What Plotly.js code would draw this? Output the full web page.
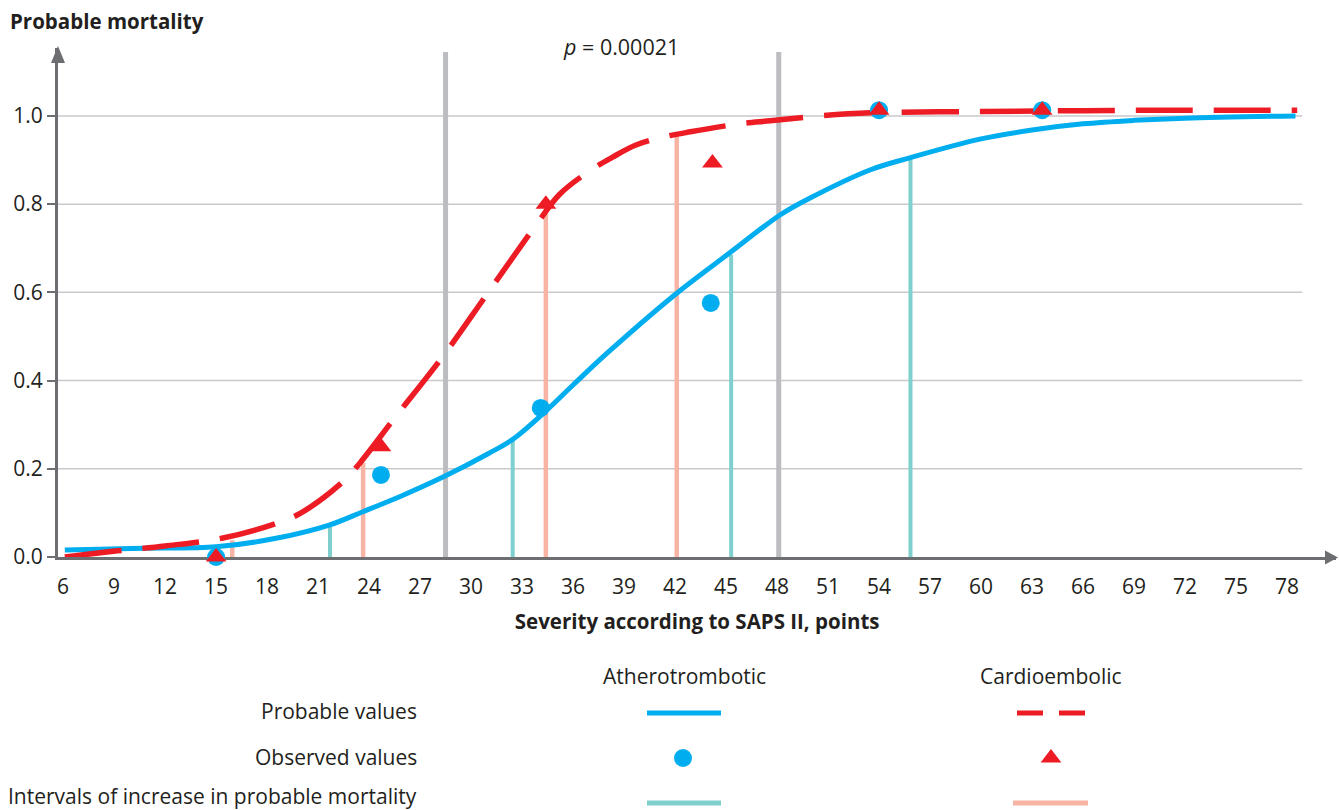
<!DOCTYPE html>
<html><head><meta charset="utf-8">
<script src="https://cdn.plot.ly/plotly-3.0.1.min.js"></script>
<style>html,body{margin:0;padding:0;background:#fff}#chart{width:1339px;height:810px}</style>
</head><body><div id="chart"></div>
<script>
// ---------- data ----------
const athProbX = [6.1, 10.7, 15, 18.6, 21.7, 23.6, 26, 28.5, 31, 32.5, 34.2, 36, 38, 42.1, 45.2, 48.2, 50, 53.5, 55.8, 60, 63, 66, 69, 72, 78.5];
const athProbY = [0.016, 0.02, 0.023, 0.043, 0.073, 0.102, 0.14, 0.184, 0.234, 0.268, 0.324, 0.39, 0.462, 0.598, 0.689, 0.776, 0.815, 0.878, 0.905, 0.948, 0.968, 0.982, 0.99, 0.995, 1.0];
const cardProbX = [6.1, 9.2, 12, 15.4, 18.6, 20, 22.5, 23.5, 25.5, 28.4, 31.1, 33.9, 35.2, 37, 38.3, 39.7, 41.3, 42.9, 45.8, 47.6, 50.5, 53.5, 60, 66, 72, 78.6];
const cardProbY = [0.0, 0.014, 0.025, 0.043, 0.077, 0.1, 0.172, 0.215, 0.315, 0.458, 0.605, 0.757, 0.822, 0.876, 0.906, 0.934, 0.952, 0.964, 0.982, 0.989, 1.0, 1.007, 1.01, 1.012, 1.013, 1.013];
const athObsX = [15, 24.7, 34.1, 44.1, 54, 63.6];
const athObsY = [0.0, 0.186, 0.338, 0.576, 1.013, 1.013];
const cardObsX = [15, 24.7, 34.4, 44.2, 54, 63.6];
const cardObsY = [0.0, 0.25, 0.80, 0.893, 1.013, 1.013];
const athIntX = [21.7, 32.45, 45.3, 55.85];
const athIntTop = [0.073, 0.266, 0.685, 0.905];
const cardIntX = [15.95, 23.65, 34.4, 42.1];
const cardIntTop = [0.038, 0.213, 0.80, 0.961];
const boundaryX = [28.5, 48.1];
const boundaryTop = [1.145, 1.145];
const xTickVals = [6, 9, 12, 15, 18, 21, 24, 27, 30, 33, 36, 39, 42, 45, 48, 51, 54, 57, 60, 63, 66, 69, 72, 75, 78];
const yTickVals = [0, 0.2, 0.4, 0.6, 0.8, 1.0];
const yTickText = ['0.0', '0.2', '0.4', '0.6', '0.8', '1.0'];
const seriesNames = ['Atherotrombotic', 'Cardioembolic'];
const rowNames = ['Probable values', 'Observed values', 'Intervals of increase in probable mortality'];
const pValue = '0.00021';

// ---------- styles ----------
const W = 1339, H = 810;
const FONT = '"Open Sans", "Noto Sans", sans-serif';
const TEXT = '#231f20';
const AXIS = '#6d6e71';
const BLUE = '#00aeef', RED = '#ed1c24', TEAL = '#7fcfcf', PINK = '#f7b4a4', GREY = '#bcbdc0', GRID = '#c9c9cb';
const X_RANGE = [5.7, 80.9], Y_RANGE = [0, 1.154], GRID_END = 78.9;

function segs(xs, tops) {
  const x = [], y = [];
  xs.forEach((v, i) => { x.push(v, v, null); y.push(0, tops[i], null); });
  return {x, y};
}
const px = v => v / W, py = v => 1 - v / H;

const traces = [];
const g = segs(boundaryX, boundaryTop);
traces.push({x: g.x, y: g.y, mode: 'lines', line: {color: GREY, width: 5}, hoverinfo: 'skip'});
const t = segs(athIntX, athIntTop);
traces.push({x: t.x, y: t.y, mode: 'lines', line: {color: TEAL, width: 4}, hoverinfo: 'skip'});
const p = segs(cardIntX, cardIntTop);
traces.push({x: p.x, y: p.y, mode: 'lines', line: {color: PINK, width: 4.5}, hoverinfo: 'skip'});
traces.push({x: athProbX, y: athProbY, mode: 'lines', line: {color: BLUE, width: 5, shape: 'spline', smoothing: 1}});
traces.push({x: cardProbX, y: cardProbY, mode: 'lines', line: {color: RED, width: 5.5, shape: 'spline', smoothing: 1, dash: '57px,21px'}});
traces.push({x: athObsX, y: athObsY, mode: 'markers', marker: {color: BLUE, size: 18, symbol: 'circle'}, cliponaxis: false});
traces.push({x: cardObsX, y: cardObsY, mode: 'markers', marker: {color: RED, size: 18, symbol: 'triangle-up'}, cliponaxis: false});

// legend block (pixel-space subplot)
const L = {colX: [684, 1051], headY: 676, rowY: [713, 758, 803], labelX: 419, labelY: [711, 757, 796], half: 37};
const lg = {xaxis: 'x2', yaxis: 'y2', hoverinfo: 'skip', cliponaxis: false};
traces.push(Object.assign({x: [L.colX[0] - L.half, L.colX[0] + L.half], y: [L.rowY[0], L.rowY[0]], mode: 'lines', line: {color: BLUE, width: 5}}, lg));
traces.push(Object.assign({x: [L.colX[1] - 34, L.colX[1] + 35], y: [L.rowY[0], L.rowY[0]], mode: 'lines', line: {color: RED, width: 5, dash: '26px,16px'}}, lg));
traces.push(Object.assign({x: [L.colX[0] - 1], y: [L.rowY[1]], mode: 'markers', marker: {color: BLUE, size: 18, symbol: 'circle'}}, lg));
traces.push(Object.assign({x: [L.colX[1]], y: [L.rowY[1]], mode: 'markers', marker: {color: RED, size: 18, symbol: 'triangle-up'}}, lg));
traces.push(Object.assign({x: [L.colX[0] - L.half, L.colX[0] + L.half], y: [L.rowY[2], L.rowY[2]], mode: 'lines', line: {color: TEAL, width: 5}}, lg));
traces.push(Object.assign({x: [L.colX[1] - 38, L.colX[1] + 37], y: [L.rowY[2], L.rowY[2]], mode: 'lines', line: {color: PINK, width: 5}}, lg));

const shapes = [];
yTickVals.filter(v => v > 0).forEach(v => shapes.push({type: 'line', xref: 'x', yref: 'y', x0: X_RANGE[0], x1: GRID_END, y0: v, y1: v, line: {color: GRID, width: 1.5}, layer: 'below'}));
// axis arrowheads
shapes.push({type: 'path', xref: 'paper', yref: 'paper', path: `M${px(1338)},${py(557.5)} L${px(1325)},${py(550.5)} L${px(1325)},${py(564.5)} Z`, fillcolor: AXIS, line: {width: 0}});
shapes.push({type: 'path', xref: 'paper', yref: 'paper', path: `M${px(58)},${py(46)} L${px(51)},${py(63)} L${px(65)},${py(63)} Z`, fillcolor: AXIS, line: {width: 0}});

const annFont = {family: FONT, size: 21, color: TEXT};
const annotations = [
  {xref: 'paper', yref: 'paper', x: px(621), y: py(46), text: '<i>p</i> = ' + pValue, showarrow: false, xanchor: 'center', yanchor: 'middle', font: {family: FONT, size: 21.5, color: TEXT}},
  {xref: 'x2', yref: 'y2', x: L.colX[0], y: L.headY, text: seriesNames[0], showarrow: false, xanchor: 'center', yanchor: 'middle', font: annFont},
  {xref: 'x2', yref: 'y2', x: L.colX[1], y: L.headY, text: seriesNames[1], showarrow: false, xanchor: 'center', yanchor: 'middle', font: annFont}
];
rowNames.forEach((r, i) => annotations.push({xref: 'x2', yref: 'y2', x: L.labelX, y: L.labelY[i], text: r, showarrow: false, xanchor: 'right', yanchor: 'middle', font: annFont}));

const layout = {
  width: W, height: H,
  margin: {l: 0, r: 0, t: 0, b: 0},
  paper_bgcolor: '#fff', plot_bgcolor: 'rgba(0,0,0,0)',
  showlegend: false, hovermode: false,
  font: {family: FONT, color: TEXT},
  title: {text: '<b>Probable mortality</b>', xref: 'container', yref: 'container', x: px(10), xanchor: 'left', y: py(22), yanchor: 'middle', font: {family: FONT, size: 20.5, color: TEXT}},
  xaxis: {domain: [px(58), px(1336.3)], range: X_RANGE, tickvals: xTickVals, ticks: 'outside', ticklen: 9, tickcolor: 'rgba(0,0,0,0)',
    showline: true, linecolor: AXIS, linewidth: 3, showgrid: false, zeroline: false, layer: 'below traces',
    tickfont: {family: FONT, size: 21, color: TEXT},
    title: {text: '<b>Severity according to SAPS II, points</b>', standoff: 16, font: {family: FONT, size: 20.5, color: TEXT}}, fixedrange: true},
  yaxis: {domain: [1 - 557 / H, 1 - 48 / H], range: Y_RANGE, tickvals: yTickVals, ticktext: yTickText, ticks: 'outside', ticklen: 8, tickwidth: 2, tickcolor: AXIS,
    showline: true, linecolor: AXIS, linewidth: 3, showgrid: false, zeroline: false, layer: 'below traces',
    tickfont: {family: FONT, size: 21, color: TEXT}, fixedrange: true},
  xaxis2: {domain: [0, 1], range: [0, W], anchor: 'y2', visible: false, fixedrange: true},
  yaxis2: {domain: [0, 200 / H], range: [H, H - 200], anchor: 'x2', visible: false, fixedrange: true},
  shapes, annotations
};
Plotly.newPlot('chart', traces, layout, {displayModeBar: false, staticPlot: true});
</script></body></html>
